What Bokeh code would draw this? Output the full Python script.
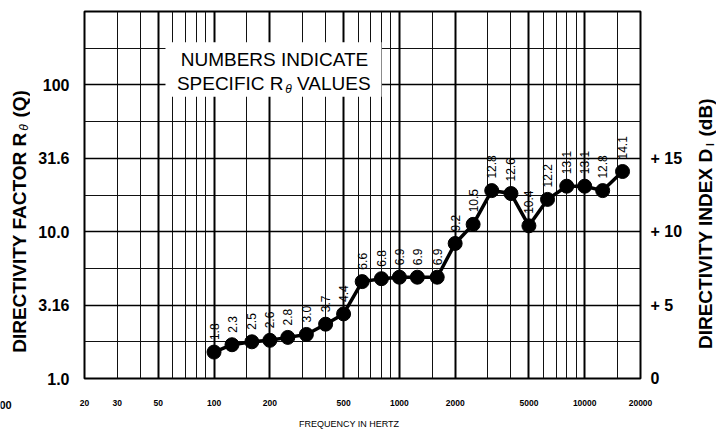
import math
from bokeh.plotting import figure
from bokeh.layouts import row, column
from bokeh.models import (FixedTicker, Grid, LinearAxis, Label, LabelSet,
                          ColumnDataSource, BoxAnnotation, Range1d)
from bokeh.core.properties import value
from bokeh.embed import file_html
from bokeh.resources import INLINE

# ---- data ----
freq_hz = [100, 125, 160, 200, 250, 315, 400, 500, 630, 800, 1000, 1250, 1600,
           2000, 2500, 3150, 4000, 5000, 6300, 8000, 10000, 12500, 16000]
di_db = [1.8, 2.3, 2.5, 2.6, 2.8, 3.0, 3.7, 4.4, 6.6, 6.8, 6.9, 6.9, 6.9,
         9.2, 10.5, 12.8, 12.6, 10.4, 12.2, 13.1, 13.1, 12.8, 14.1]
point_labels = ["1.8", "2.3", "2.5", "2.6", "2.8", "3.0", "3.7", "4.4", "6.6", "6.8",
                "6.9", "6.9", "6.9", "9.2", "10.5", "12.8", "12.6", "10.4", "12.2",
                "13.1", "13.1", "12.8", "14.1"]

x_tick_values = [20, 30, 50, 100, 200, 500, 1000, 2000, 5000, 10000, 20000]
x_tick_labels = ["20", "30", "50", "100", "200", "500", "1000", "2000", "5000", "10000", "20000"]
left_tick_db = [0, 5, 10, 15, 20]
left_tick_labels = ["1.0", "3.16", "10.0", "31.6", "100"]
right_tick_db = [0, 5, 10, 15]
right_tick_labels = ["0", "+ 5", "+ 10", "+ 15"]

grid_thin_hz = [30, 40, 60, 70, 80, 90, 150, 300, 400, 600, 700, 800, 900,
                1500, 3000, 4000, 6000, 7000, 8000, 9000, 15000]
grid_heavy_hz = [50, 100, 200, 500, 1000, 2000, 5000, 10000]
grid_thin_db = [2.5, 7.5, 12.5, 17.5, 22.5]
grid_heavy_db = [5, 10, 15, 20]

FONT = "Liberation Sans"
H = 433
LEFT_W, RIGHT_W = 30, 24
MAIN_W, MAIN_H = 716 - LEFT_W - RIGHT_W, 413
BOTTOM_H = H - MAIN_H

# ---------------- main chart ----------------
p = figure(width=MAIN_W, height=MAIN_H, x_axis_type="log",
           x_range=Range1d(20, 20000), y_range=Range1d(0, 25),
           output_backend="svg", toolbar_location=None, title=None,
           min_border_left=54, min_border_right=52, min_border_top=11,
           min_border_bottom=35)
p.background_fill_color = "white"
p.border_fill_color = "white"
p.outline_line_color = "black"
p.outline_line_width = 2

def style_axis(ax, size, standoff):
    ax.axis_line_color = None
    ax.major_tick_line_color = None
    ax.minor_tick_line_color = None
    ax.major_tick_out = 0
    ax.major_tick_in = 0
    ax.minor_tick_out = 0
    ax.minor_tick_in = 0
    ax.major_label_text_font = FONT
    ax.major_label_text_font_style = "bold"
    ax.major_label_text_font_size = size
    ax.major_label_text_color = "black"
    ax.major_label_standoff = standoff

xa = p.xaxis[0]
xa.ticker = FixedTicker(ticks=x_tick_values, minor_ticks=[])
xa.major_label_overrides = {v: t for v, t in zip(x_tick_values, x_tick_labels)}
style_axis(xa, "8.5px", 21)

ya = p.yaxis[0]
ya.ticker = FixedTicker(ticks=left_tick_db, minor_ticks=[])
ya.major_label_overrides = {v: t for v, t in zip(left_tick_db, left_tick_labels)}
style_axis(ya, "16px", 15)

yr = LinearAxis(ticker=FixedTicker(ticks=right_tick_db, minor_ticks=[]),
                major_label_overrides={v: t for v, t in zip(right_tick_db, right_tick_labels)})
style_axis(yr, "16px", 10)
p.add_layout(yr, "right")

# grids
p.xgrid.ticker = FixedTicker(ticks=grid_thin_hz)
p.xgrid.grid_line_color = "#111111"
p.xgrid.grid_line_width = 1
p.ygrid.ticker = FixedTicker(ticks=grid_thin_db)
p.ygrid.grid_line_color = "#111111"
p.ygrid.grid_line_width = 1
p.add_layout(Grid(dimension=0, ticker=FixedTicker(ticks=grid_heavy_hz),
                  grid_line_color="black", grid_line_width=2))
p.add_layout(Grid(dimension=1, ticker=FixedTicker(ticks=grid_heavy_db),
                  grid_line_color="black", grid_line_width=1.5))

# data
src = ColumnDataSource(dict(freq=freq_hz, di=di_db, lbl=point_labels))
p.line("freq", "di", source=src, line_color="black", line_width=3.5)
p.scatter("freq", "di", source=src, size=14, fill_color="black", line_color="black")
p.add_layout(LabelSet(x="freq", y="di", text="lbl", source=src, angle=math.pi / 2,
                      text_align="left", text_baseline="middle", y_offset=12,
                      text_font=value(FONT), text_font_size="12px",
                      text_color="black"))

# annotation box
p.add_layout(BoxAnnotation(left=54.7, right=801, bottom=19.2, top=22.9,
                           fill_color="white", fill_alpha=1, line_color=None))

def lab(text, dx, dy, size, style="normal", align="left"):
    p.add_layout(Label(x=20, y=0, x_offset=dx, y_offset=dy, text=text,
                       text_font=FONT, text_font_size=size, text_font_style=style,
                       text_align=align, text_baseline="middle", text_color="black"))

lab("NUMBERS INDICATE", 190, 319.5, "19px", align="center")
lab("SPECIFIC R", 199, 295.5, "19px", align="right")
lab("\u03b8", 204, 290, "12px", style="italic", align="center")
lab("VALUES", 212.5, 295.5, "19px", align="left")

# ---------------- side strips for outer titles ----------------
def strip(w, h):
    f = figure(width=w, height=h, x_range=Range1d(0, w), y_range=Range1d(0, h),
               output_backend="svg", toolbar_location=None, title=None,
               x_axis_location=None, y_axis_location=None, min_border=0)
    f.outline_line_color = None
    f.background_fill_color = "white"
    f.border_fill_color = "white"
    f.grid.visible = False
    return f

def txt(f, x, y, s, size, style="bold", align="left", angle=0.0):
    f.text(x=[x], y=[y], text=[s], angle=angle, text_align=align,
           text_baseline="middle", text_font=value(FONT), text_font_size=size,
           text_font_style=style, text_color="black")

A = math.pi / 2
left = strip(LEFT_W, H)
txt(left, 18.5, 301, "DIRECTIVITY FACTOR R", "19px", align="right", angle=A)
txt(left, 23.5, 306, "\u03b8", "12px", style="italic", align="center", angle=A)
txt(left, 18.5, 316, "(Q)", "19px", align="left", angle=A)
txt(left, -1, 29, "00", "11px", align="left")

right = strip(RIGHT_W, H)
txt(right, 13, 285, "DIRECTIVITY INDEX D", "19px", align="right", angle=A)
txt(right, 18, 289, "I", "10px", align="center", angle=A)
txt(right, 13, 297, "(dB)", "19px", align="left", angle=A)

bottom = strip(MAIN_W, BOTTOM_H)
txt(bottom, 315, 10, "FREQUENCY IN HERTZ", "9px", style="normal", align="center")

layout = row(left, column(p, bottom), right)
open("out.html", "w").write(file_html(layout, INLINE))
